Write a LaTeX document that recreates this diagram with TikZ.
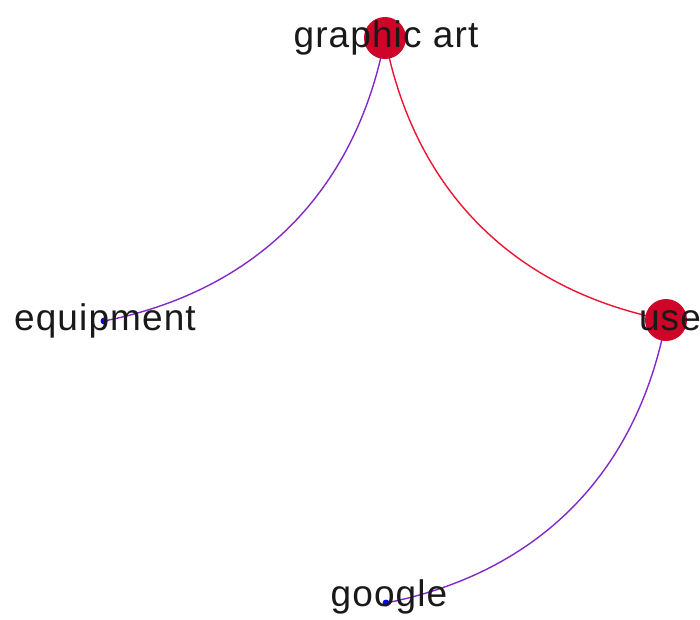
\documentclass[tikz,border=0pt]{standalone}
\usepackage{fontspec}
\newfontfamily\labfont[LetterSpace=3]{Liberation Sans}
\definecolor{nodered}{RGB}{206,4,40}
\definecolor{edgered}{RGB}{235,20,50}
\definecolor{edgepurple}{RGB}{130,40,205}
\definecolor{dotblue}{RGB}{10,10,230}
\begin{document}
\begin{tikzpicture}[x=1pt,y=-1pt,
  bignode/.style={circle,fill=nodered,draw=none,minimum size=42pt,inner sep=0pt},
  smallnode/.style={circle,fill=dotblue,draw=none,minimum size=7pt,inner sep=0pt},
  lab/.style={font=\labfont\fontsize{37}{42}\selectfont,text=black!90,anchor=base,inner sep=0pt},
  edge/.style={line width=1.4pt}]
\useasboundingbox (0,0) rectangle (700,619);
\coordinate (ga) at (385,38);
\coordinate (eq) at (104,321);
\coordinate (us) at (666,320);
\coordinate (go) at (386,603);
\draw[edge,edgepurple] (ga) to[bend left=34] (eq);
\draw[edge,edgered] (ga) to[bend right=34] (us);
\draw[edge,edgepurple] (us) to[bend left=34] (go);
\node[bignode] (gan) at (ga) {};
\node[bignode] (usn) at (us) {};
\node[smallnode] (eqn) at (eq) {};
\node[smallnode] (gon) at (go) {};
\node[lab] (gal) at (386,47) {graphic art};
\node[lab] (eql) at (105,330) {equipment};
\node[lab] (usl) at (670,330) {use};
\node[lab] (gol) at (389,606) {google};
\end{tikzpicture}
\end{document}
